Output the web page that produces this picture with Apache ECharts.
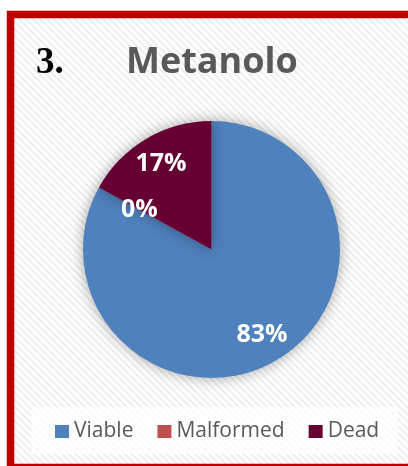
<!DOCTYPE html>
<html>
<head>
<meta charset="utf-8">
<script src="https://cdn.jsdelivr.net/npm/echarts@6/dist/echarts.min.js"></script>
<style>
  html, body { margin: 0; padding: 0; background: #ffffff; }
  #chart { width: 408px; height: 466px; }
</style>
</head>
<body>
<div id="chart"></div>
<script>
// Outcome shares (percent) for the methanol group
const categories = ['Viable', 'Malformed', 'Dead'];
const shares = [83, 0, 17];
const sliceColors = ['#4F81BD', '#C0504D', '#660033'];
const chartNumber = '3.';
const chartTitle = 'Metanolo';

// Light diagonal hatch used as the card background
function makeHatch() {
  const s = 7;
  const c = document.createElement('canvas');
  c.width = s; c.height = s;
  const g = c.getContext('2d');
  g.fillStyle = '#ffffff';
  g.fillRect(0, 0, s, s);
  g.strokeStyle = '#eeeeee';
  g.lineWidth = 2;
  for (const o of [-s, 0, s]) {
    g.beginPath();
    g.moveTo(o - 1, -1);
    g.lineTo(o + s + 1, s + 1);
    g.stroke();
  }
  return c;
}

const seriesData = categories.map((name, i) => ({
  name: name,
  value: shares[i],
  itemStyle: { color: sliceColors[i] }
}));

const labelStyle = {
  color: '#ffffff',
  fontFamily: 'Open Sans',
  fontWeight: 'bold',
  fontSize: 25,
  formatter: '{c}%'
};

// Transparent rings that only carry the percentage labels
function labelRing(inner, names) {
  return {
    type: 'pie',
    center: [211.5, 249.5],
    radius: [inner, 128.5],
    silent: true,
    z: 5,
    animation: false,
    legendHoverLink: false,
    data: categories.map((name, i) => ({
      name: name,
      value: shares[i],
      itemStyle: { color: 'rgba(0,0,0,0)' },
      label: { show: names.includes(name) }
    })),
    label: Object.assign({ position: 'inside' }, labelStyle),
    labelLine: { show: false },
    emphasis: { disabled: true }
  };
}

const chart = echarts.init(document.getElementById('chart'), null, { renderer: 'canvas' });

chart.setOption({
  backgroundColor: '#ffffff',
  animation: false,
  legend: {
    data: categories,
    left: 55,
    top: 421,
    padding: 0,
    itemWidth: 14,
    itemHeight: 13,
    itemGap: 24,
    icon: 'rect',
    textStyle: { fontFamily: 'Open Sans', fontSize: 21, color: '#595959' },
    selectedMode: false,
    z: 10
  },
  graphic: [
    {
      type: 'rect',
      z: -10,
      shape: { x: 10.5, y: 14.5, width: 420, height: 453 },
      style: { fill: { image: makeHatch(), repeat: 'repeat' } },
      silent: true
    },
    {
      type: 'rect',
      z: -5,
      shape: { x: 31, y: 407, width: 367, height: 47 },
      style: { fill: 'rgba(255,255,255,0.75)' },
      silent: true
    },
    {
      type: 'text',
      z: 20,
      x: 36,
      y: 45,
      style: {
        text: chartNumber,
        font: 'bold 37px "Liberation Serif"',
        fill: '#000000'
      },
      silent: true
    },
    {
      type: 'text',
      z: 20,
      x: 126,
      y: 45,
      style: {
        text: chartTitle,
        font: 'bold 36px "Open Sans"',
        fill: '#595959'
      },
      silent: true
    },
    {
      type: 'rect',
      z: 100,
      shape: { x: 10.5, y: 14.5, width: 420, height: 453 },
      style: { fill: null, stroke: '#C00000', lineWidth: 7.5 },
      silent: true
    }
  ],
  series: [
    {
      type: 'pie',
      center: [211.5, 249.5],
      radius: [0, 128.5],
      startAngle: 90,
      clockwise: true,
      z: 2,
      data: seriesData,
      label: { show: false },
      labelLine: { show: false },
      itemStyle: {
        borderWidth: 0,
        shadowBlur: 14,
        shadowColor: 'rgba(0,0,0,0.35)'
      },
      emphasis: { disabled: true }
    },
    labelRing(64, ['Viable', 'Dead']),
    labelRing(30, ['Malformed'])
  ]
});
</script>
</body>
</html>
